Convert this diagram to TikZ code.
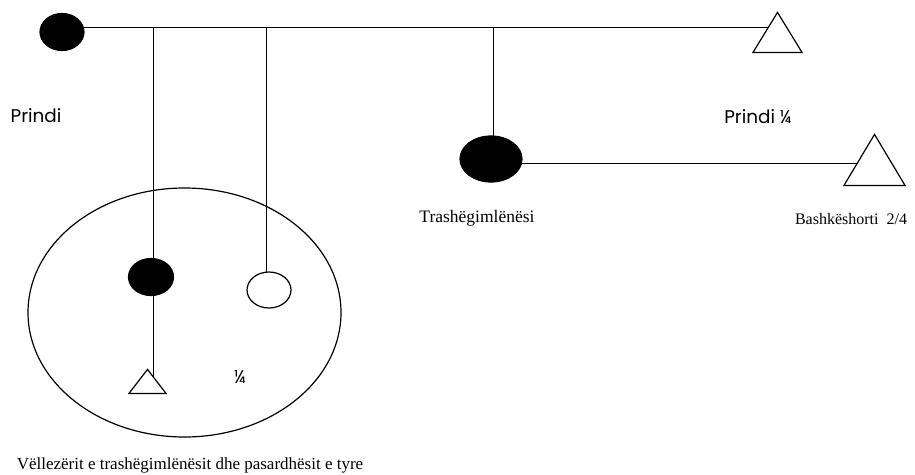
\documentclass[tikz,border=0pt]{standalone}
\usepackage{fontspec}
\setmainfont{Liberation Serif}
\newfontfamily\gothic{Poppins}
\usetikzlibrary{shapes.geometric,backgrounds}

\begin{document}
\begin{tikzpicture}[
  x=1pt, y=-1pt,
  every node/.style={inner sep=0pt},
  person/.style={ellipse, draw=black, line width=1.2pt},
  dead/.style={person, fill=black},
  alive/.style={person, fill=white},
  male/.style={isosceles triangle, isosceles triangle stretches, shape border rotate=90, anchor=lower side, draw=black, fill=white, line width=1.2pt},
  lbl/.style={font=\fontsize{17.5}{19}\selectfont},
  glbl/.style={font=\gothic\fontsize{18.4}{20}\selectfont}
]
  \useasboundingbox (0,0) rectangle (915,474);

  % persons
  \node[dead, minimum width=44, minimum height=37] (pa) at (62,32) {};
  \node[male, minimum width=49, minimum height=40] (tb) at (777.5,53) {};
  \node[dead, minimum width=62, minimum height=46] (tr) at (491,159) {};
  \node[male, minimum width=61, minimum height=51] (ts) at (874.5,186) {};
  \node[person, minimum width=313, minimum height=249] (fam) at (184.5,312.5) {};
  \node[dead, minimum width=45, minimum height=37] (s1) at (151,277) {};
  \node[alive, minimum width=44, minimum height=36] (o1) at (269,290) {};
  \node[male, minimum width=37, minimum height=24] (t1) at (147.5,394) {};

  \coordinate (d1) at (153,27);
  \coordinate (d2) at (266,27);
  \coordinate (d3) at (493,27);

  % lines
  \begin{scope}[on background layer, line width=1.2pt]
    \draw (pa.13) -- (pa.13 -| tb);
    \draw (d1) -- (d1 |- t1);
    \draw (d2) -- (d2 |- o1);
    \draw (d3) -- (d3 |- tr);
    \draw (tr.-8) -- (tr.-8 -| ts);
  \end{scope}

  % labels
  \node[glbl] (lp) at (36,116) {Prindi};
  \node[glbl] (lq) at (758,117) {Prindi ¼};
  \node[lbl] (lt) at (477,218) {Trashëgimlënësi};
  \node[font=\fontsize{16}{18}\selectfont] (lb) at (851,219) {Bashkëshorti~~2/4};
  \node[glbl] (lf) at (240,377) {¼};
  \node[font=\fontsize{17}{19}\selectfont] (lc) at (190,465) {Vëllezërit e trashëgimlënësit dhe pasardhësit e tyre};
\end{tikzpicture}
\end{document}
